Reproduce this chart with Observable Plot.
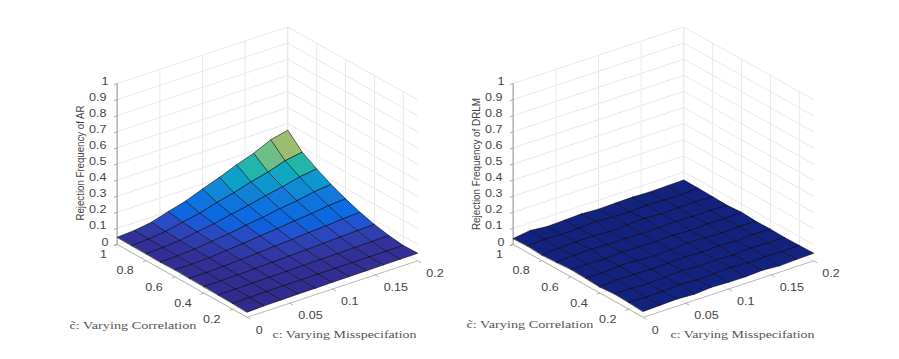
<!DOCTYPE html>
<html>
<head>
<meta charset="utf-8">
<script src="https://cdn.jsdelivr.net/npm/d3@7"></script>
<script src="https://cdn.jsdelivr.net/npm/@observablehq/plot@0.6"></script>
<style>
  html, body { margin: 0; padding: 0; background: #fff; }
  svg { display: block; }
</style>
</head>
<body>
<div id="chart"></div>
<script>
// Grid of the two surfaces
const misValues = [0, 0.02, 0.04, 0.06, 0.08, 0.1, 0.12, 0.14, 0.16, 0.18, 0.2];
const corrValues = [0.1, 0.2, 0.3, 0.4, 0.5, 0.6, 0.7, 0.8, 0.9, 1];

// Rejection frequency, one row per correlation value, one column per misspecification value
const arRows = [
  [.032,.036,.038,.040,.040,.042,.043,.044,.045,.046,.047],
  [.036,.038,.040,.041,.042,.042,.043,.044,.044,.045,.045],
  [.038,.040,.041,.043,.044,.047,.048,.050,.052,.054,.056],
  [.040,.041,.043,.047,.050,.054,.058,.063,.067,.072,.075],
  [.041,.042,.045,.051,.057,.065,.071,.080,.086,.095,.100],
  [.044,.044,.048,.058,.066,.079,.089,.102,.112,.126,.134],
  [.041,.045,.052,.065,.077,.095,.109,.128,.142,.162,.173],
  [.043,.047,.056,.074,.090,.113,.133,.158,.178,.205,.219],
  [.044,.049,.061,.084,.105,.136,.161,.194,.220,.255,.273],
  [.045,.052,.068,.100,.129,.170,.207,.250,.286,.335,.360]
];
const drlmRows = [
  [.036,.040,.044,.038,.046,.042,.041,.047,.039,.044,.047],
  [.042,.038,.041,.047,.040,.044,.049,.043,.046,.041,.045],
  [.046,.043,.039,.044,.050,.042,.046,.040,.048,.045,.043],
  [.038,.047,.044,.041,.045,.048,.043,.047,.042,.049,.046],
  [.043,.040,.048,.045,.039,.044,.050,.046,.043,.047,.044],
  [.047,.044,.041,.049,.046,.043,.047,.041,.048,.045,.050],
  [.040,.046,.050,.043,.047,.041,.045,.049,.044,.046,.043],
  [.035,.043,.045,.048,.042,.046,.052,.044,.047,.050,.046],
  [.041,.048,.043,.046,.051,.045,.042,.048,.045,.043,.049],
  [.037,.052,.042,.046,.050,.044,.047,.049,.045,.048,.050]
];

// Ticks
const zTicks = [0, 0.1, 0.2, 0.3, 0.4, 0.5, 0.6, 0.7, 0.8, 0.9, 1];
const misTicks = [0, 0.05, 0.1, 0.15, 0.2];
const corrTicks = [0.2, 0.4, 0.6, 0.8, 1];

// Colour of a facet against the mean height of its corners
const colorStops = [.040, .050, .064, .080, .095, .114, .149, .180, .210, .240, .275, .306];
const colorRange = ["#322c90", "#33329c", "#2f3fb0", "#2a4cc8", "#0f62de", "#0c6ce2", "#1478da", "#1090d2", "#0ba6c6", "#25b5a8", "#70bf85", "#9bbd6e"];
const drlmColor = "#14227f";

const panels = [
  {dx: 0, rows: arRows, zLabel: "Rejection Frequency of AR"},
  {dx: 396, rows: drlmRows, zLabel: "Rejection Frequency of DRLM"}
];

// Oblique view of the box: misspecification 0..0.2, correlation 0.1..1, frequency 0..1
const px = (c, r, dx) => 246.7 + dx + (c / 0.2) * 170.6 - ((r - 0.1) / 0.9) * 130;
const py = (c, r, z) => 316.8 - (c / 0.2) * 56.5 - ((r - 0.1) / 0.9) * 72.8 - z * 161;

function facets(p) {
  const out = [];
  for (let j = corrValues.length - 2; j >= 0; --j) {
    for (let i = misValues.length - 2; i >= 0; --i) {
      const corners = [[i, j], [i + 1, j], [i + 1, j + 1], [i, j + 1]];
      const v = d3.mean(corners, ([a, b]) => p.rows[b][a]);
      for (const [a, b] of corners) {
        out.push({
          id: `${p.dx}-${i}-${j}`, v,
          x: px(misValues[a], corrValues[b], p.dx),
          y: py(misValues[a], corrValues[b], p.rows[b][a])
        });
      }
    }
  }
  return out;
}

const seg = (c1, r1, z1, c2, r2, z2, dx) => ({
  x1: px(c1, r1, dx), y1: py(c1, r1, z1), x2: px(c2, r2, dx), y2: py(c2, r2, z2)
});
const gridLines = [], axisLines = [], zAxis = [], tickLines = [], endTexts = [], startTexts = [], titles = [];
for (const p of panels) {
  const d = p.dx;
  for (const z of zTicks) {
    gridLines.push(seg(0, 1, z, 0.2, 1, z, d), seg(0.2, 1, z, 0.2, 0.1, z, d));
    const a = seg(0, 1, z, 0, 1, z, d);
    tickLines.push({x1: a.x1 - 3.3, y1: a.y1 + 1.1, x2: a.x1, y2: a.y1});
    endTexts.push({x: a.x1 - 7.5, y: a.y1 - 2.2, t: String(z)});
  }
  for (const c of misTicks) {
    gridLines.push(seg(c, 1, 0, c, 1, 1, d), seg(c, 0.1, 0, c, 1, 0, d));
    const a = seg(c, 0.1, 0, c, 0.1, 0, d);
    tickLines.push({x1: a.x1, y1: a.y1, x2: a.x1 + 3.3, y2: a.y1 + 1.9});
    startTexts.push({x: a.x1 + 8.5, y: a.y1 + 13, t: String(c)});
  }
  for (const r of corrTicks) {
    gridLines.push(seg(0.2, r, 0, 0.2, r, 1, d), seg(0, r, 0, 0.2, r, 0, d));
    const a = seg(0, r, 0, 0, r, 0, d);
    tickLines.push({x1: a.x1 - 3.3, y1: a.y1 + 1.1, x2: a.x1, y2: a.y1});
    endTexts.push({x: a.x1 - 9, y: a.y1 + 10.5, t: String(r)});
  }
  axisLines.push(seg(0, 0.1, 0, 0.2, 0.1, 0, d), seg(0, 0.1, 0, 0, 1, 0, d));
  zAxis.push(seg(0, 1, 0, 0, 1, 1, d));
  titles.push({x: 80.5 + d, y: 164.5, t: p.zLabel});
}
const serifLabels = [
  {x: 69, y: 325, t: "c\u0303: Varying Correlation"},
  {x: 466, y: 324.5, t: "c\u0303: Varying Correlation"},
  {x: 272, y: 334, t: "c: Varying Misspecifation"},
  {x: 670, y: 334, t: "c: Varying Misspecifation"}
];
const xy = {x1: "x1", y1: "y1", x2: "x2", y2: "y2"};
const tickFont = {x: "x", y: "y", text: "t", fill: "#444444", fontSize: 10.2, fontFamily: "Liberation Sans"};
const mesh = {x: "x", y: "y", z: "id", curve: "linear-closed", stroke: "#000000", strokeWidth: 0.65, strokeOpacity: 0.85};

const chart = Plot.plot({
  width: 899,
  height: 359,
  margin: 0,
  style: {background: "#fff"},
  x: {domain: [0, 899], range: [0, 899], axis: null},
  y: {domain: [0, 359], range: [0, 359], axis: null},
  color: {type: "linear", domain: colorStops, range: colorRange},
  marks: [
    Plot.link(gridLines, {...xy, stroke: "#e9e9e9", strokeWidth: 1}),
    Plot.link(axisLines, {...xy, stroke: "#a6a6a6", strokeWidth: 0.8}),
    Plot.link(zAxis, {...xy, stroke: "#b4b4b4", strokeWidth: 1.5}),
    Plot.link(tickLines, {...xy, stroke: "#8c8c8c", strokeWidth: 0.7}),
    Plot.line(facets(panels[0]), {...mesh, fill: "v"}),
    Plot.line(facets(panels[1]), {...mesh, fill: drlmColor}),
    Plot.text(endTexts, {...tickFont, textAnchor: "end"}),
    Plot.text(startTexts, {...tickFont, textAnchor: "start"}),
    Plot.text(titles, {x: "x", y: "y", text: "t", rotate: -90, fill: "#444444", fontSize: 10, fontFamily: "Liberation Sans"}),
    Plot.text(serifLabels, {x: "x", y: "y", text: "t", textAnchor: "start", fill: "#555555", fontSize: 10.2, fontFamily: "Liberation Serif"})
  ]
});
document.getElementById("chart").append(chart);

// The reference's lettering is stretched sideways; keep each label anchored where it was
chart.querySelectorAll("text").forEach((node) => {
  const label = node.textContent;
  const len = node.getComputedTextLength();
  let target = len * 1.23;
  if (label.startsWith("Rejection")) target = label.endsWith("AR") ? 115 : 132;
  else if (label.includes("Correlation")) target = 127;
  else if (label.includes("Misspec")) target = 144;
  const anchor = getComputedStyle(node).textAnchor;
  const extra = target - len;
  if (anchor === "end") node.setAttribute("dx", -extra);
  else if (anchor === "middle") node.setAttribute("dx", -extra / 2);
  node.setAttribute("textLength", target);
  node.setAttribute("lengthAdjust", "spacingAndGlyphs");
});
</script>
</body>
</html>
